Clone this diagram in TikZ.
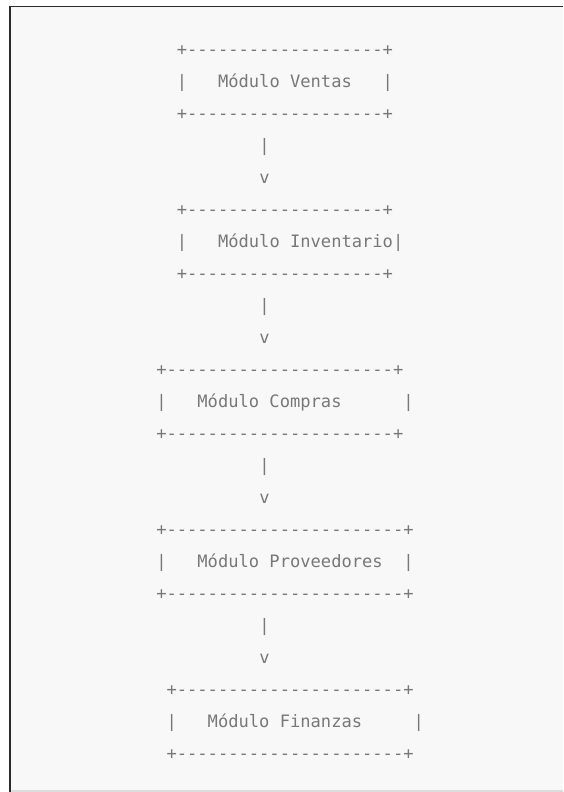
\documentclass[tikz,border=0pt]{standalone}
\usepackage{fontspec}
\newfontfamily\asciifont{DejaVu Sans Mono}
\definecolor{pagebg}{HTML}{F8F8F8}
\definecolor{framedark}{HTML}{2A2A2A}
\definecolor{framelight}{HTML}{DCDCDC}
\definecolor{asciigray}{HTML}{787878}
\tikzset{
  asc/.style={inner sep=0pt, outer sep=0pt, anchor=base west, text=asciigray,
    font=\asciifont\fontsize{17.1}{20}\selectfont}
}
\begin{document}
\begin{tikzpicture}[x=1pt,y=-1pt]
\useasboundingbox (0,0) rectangle (563,792);
\fill[white] (0,0) rectangle (563,792);
\fill[pagebg] (10,6.5) rectangle (563,789.5);
\fill[framelight] (10,789.5) rectangle (563,792);
\fill[framedark] (9,5.8) rectangle (563,7.4);
\fill[framedark] (9,5.8) rectangle (11,792);
% lines: baseline y = 55.5 + 32 k ; col c left = 156.25 + 10.3 c
\node[asc] (vtop) at (176.85,55.5)  {+-------------------+};
\node[asc] (vmid) at (176.85,87.5)  {|~~~Módulo~Ventas~~~|};
\node[asc] (vbot) at (176.85,119.5) {+-------------------+};
\node[asc] (a1bar) at (259.25,151.5) {|};
\node[asc] (a1v)   at (259.25,183.5) {v};
\node[asc] (itop) at (176.85,215.5) {+-------------------+};
\node[asc] (imid) at (176.85,247.5) {|~~~Módulo~Inventario|};
\node[asc] (ibot) at (176.85,279.5) {+-------------------+};
\node[asc] (a2bar) at (259.25,311.5) {|};
\node[asc] (a2v)   at (259.25,343.5) {v};
\node[asc] (ctop) at (156.25,375.5) {+----------------------+};
\node[asc] (cmid) at (156.25,407.5) {|~~~Módulo~Compras~~~~~~|};
\node[asc] (cbot) at (156.25,439.5) {+----------------------+};
\node[asc] (a3bar) at (259.25,471.5) {|};
\node[asc] (a3v)   at (259.25,503.5) {v};
\node[asc] (ptop) at (156.25,535.5) {+-----------------------+};
\node[asc] (pmid) at (156.25,567.5) {|~~~Módulo~Proveedores~~|};
\node[asc] (pbot) at (156.25,599.5) {+-----------------------+};
\node[asc] (a4bar) at (259.25,631.5) {|};
\node[asc] (a4v)   at (259.25,663.5) {v};
\node[asc] (ftop) at (166.55,695.5) {+----------------------+};
\node[asc] (fmid) at (166.55,727.5) {|~~~Módulo~Finanzas~~~~~|};
\node[asc] (fbot) at (166.55,759.5) {+----------------------+};
\end{tikzpicture}
\end{document}
